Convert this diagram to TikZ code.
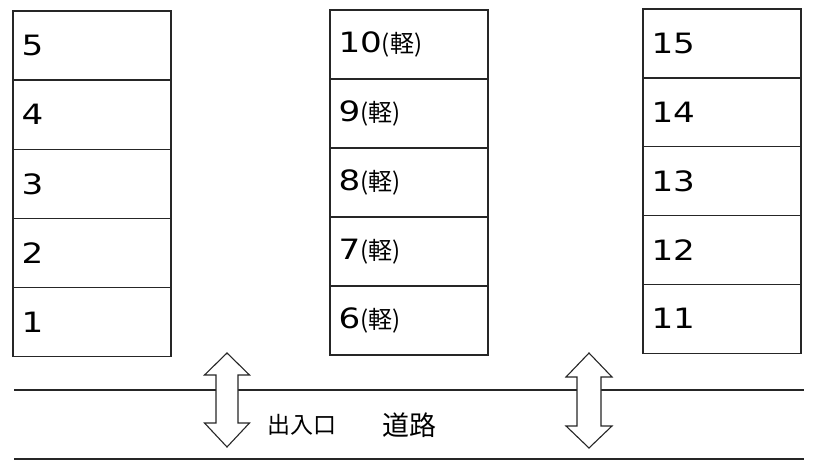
\documentclass[tikz,border=0pt]{standalone}
\usepackage{fontspec}
\setmainfont{Noto Sans CJK JP}
\newfontfamily\digfont[FakeStretch=1.22]{DejaVu Sans}
\begin{document}
\begin{tikzpicture}[x=1pt,y=-1pt,
  slot/.style={draw=black!85, line width=1.1pt, minimum width=158pt, minimum height=69pt,
    text width=141pt, align=left, inner xsep=8.5pt, inner ysep=0pt,
    font=\digfont\fontsize{28}{30}\selectfont},
  road/.style={draw=black!85, line width=1.2pt},
  gate/.style={draw=black!85, line width=1.1pt, fill=white, line join=miter}]
\newcommand{\kk}{{\rmfamily\fontsize{24}{26}\selectfont(軽)}}
\useasboundingbox (0,0) rectangle (819,465);
% left column
\foreach \n [count=\i from 0] in {5,4,3,2,1}
  \node[slot] (l\n) at (92, 45.5+69.2*\i) {\n};
% middle column
\foreach \n [count=\i from 0] in {10,9,8,7,6}
  \node[slot] (m\n) at (409, 44.5+69*\i) {\n\kk};
% right column
\foreach \n [count=\i from 0] in {15,14,13,12,11}
  \node[slot] (r\n) at (722, 43.5+68.8*\i) {\n};
% road
\draw[road] (14,390) -- (804,390);
\draw[road] (14,459) -- (804,459);
% gates
\draw[gate] (227,353) -- (249.5,375) -- (238,375) -- (238,423) -- (249.5,423) -- (227,447)
  -- (204.5,423) -- (216,423) -- (216,375) -- (204.5,375) -- cycle;
\draw[gate] (589,353) -- (612,377) -- (601,377) -- (601,426) -- (612,426) -- (589,448)
  -- (566,426) -- (577,426) -- (577,377) -- (566,377) -- cycle;
\node[font=\fontsize{23}{25}\selectfont, inner sep=0pt] (gatelbl) at (301.5,425) {出入口};
\node[font=\fontsize{27}{29}\selectfont, inner sep=0pt] (roadlbl) at (409.5,425) {道路};
\end{tikzpicture}
\end{document}
